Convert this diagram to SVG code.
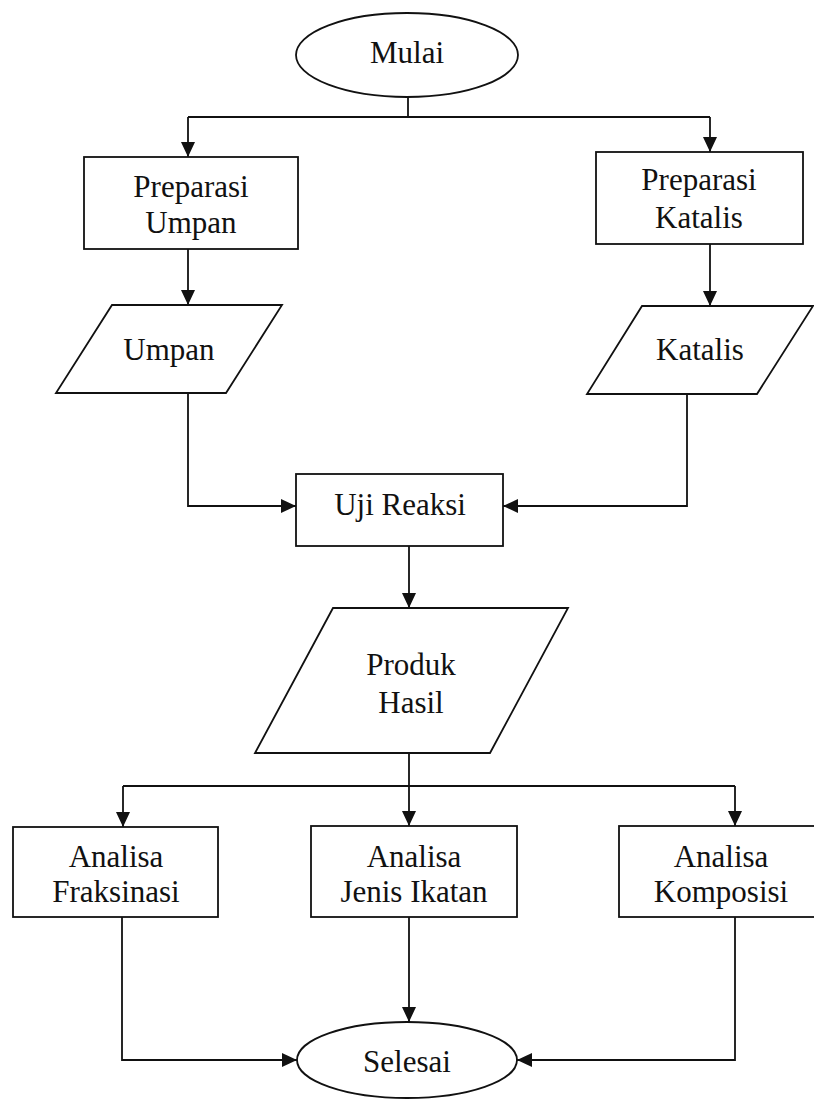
<svg xmlns="http://www.w3.org/2000/svg" width="814" height="1100" viewBox="0 0 814 1100">
<style>
.s{fill:none;stroke:#111;stroke-width:1.8}
.c{fill:none;stroke:#111;stroke-width:1.8}
.t{font-family:"Liberation Serif","Times New Roman",serif;font-size:31px;fill:#111;text-anchor:middle}
</style>
<defs>
<marker id="ah" markerUnits="userSpaceOnUse" markerWidth="16" markerHeight="16" refX="15" refY="7" orient="auto">
<path d="M0,0 L15,7 L0,14 z" fill="#111"/>
</marker>
</defs>
<rect width="814" height="1100" fill="#fff"/>
<g id="connectors">
<path class="c" d="M408,97 V117"/>
<path class="c" d="M188,117 H710"/>
<path class="c" d="M188,117 V157" marker-end="url(#ah)"/>
<path class="c" d="M710,117 V152" marker-end="url(#ah)"/>
<path class="c" d="M188,249 V305" marker-end="url(#ah)"/>
<path class="c" d="M710,244 V306" marker-end="url(#ah)"/>
<path class="c" d="M188,393 V506 H296" marker-end="url(#ah)"/>
<path class="c" d="M687,394 V506 H503" marker-end="url(#ah)"/>
<path class="c" d="M409,546 V608" marker-end="url(#ah)"/>
<path class="c" d="M409,753 V786"/>
<path class="c" d="M123,786 H735"/>
<path class="c" d="M123,786 V827" marker-end="url(#ah)"/>
<path class="c" d="M409,786 V826" marker-end="url(#ah)"/>
<path class="c" d="M735,786 V826" marker-end="url(#ah)"/>
<path class="c" d="M122,917 V1060 H297" marker-end="url(#ah)"/>
<path class="c" d="M409,917 V1022" marker-end="url(#ah)"/>
<path class="c" d="M735,917 V1060 H517" marker-end="url(#ah)"/>
</g>
<g id="mulai">
<ellipse class="s" cx="407" cy="55" rx="111" ry="42"/>
<text class="t" x="407" y="63">Mulai</text>
</g>
<g id="preparasi-umpan">
<rect class="s" x="84" y="157" width="214" height="92"/>
<text class="t" x="191" y="197">Preparasi</text>
<text class="t" x="191" y="233">Umpan</text>
</g>
<g id="preparasi-katalis">
<rect class="s" x="596" y="152" width="207" height="92"/>
<text class="t" x="699" y="190">Preparasi</text>
<text class="t" x="699" y="228">Katalis</text>
</g>
<g id="umpan">
<polygon class="s" points="112,305 282,305 226,393 56,393"/>
<text class="t" x="169" y="360">Umpan</text>
</g>
<g id="katalis">
<polygon class="s" points="642,306 813,306 757,394 587,394"/>
<text class="t" x="700" y="360">Katalis</text>
</g>
<g id="uji-reaksi">
<rect class="s" x="296" y="474" width="207" height="72"/>
<text class="t" x="400" y="515">Uji Reaksi</text>
</g>
<g id="produk-hasil">
<polygon class="s" points="333,608 568,608 490,753 255,753"/>
<text class="t" x="411" y="675">Produk</text>
<text class="t" x="411" y="713">Hasil</text>
</g>
<g id="analisa-fraksinasi">
<rect class="s" x="13" y="827" width="205" height="90"/>
<text class="t" x="116" y="867">Analisa</text>
<text class="t" x="116" y="902">Fraksinasi</text>
</g>
<g id="analisa-jenis-ikatan">
<rect class="s" x="311" y="826" width="206" height="91"/>
<text class="t" x="414" y="867">Analisa</text>
<text class="t" x="414" y="902">Jenis Ikatan</text>
</g>
<g id="analisa-komposisi">
<rect class="s" x="619" y="826" width="205" height="91"/>
<text class="t" x="721" y="867">Analisa</text>
<text class="t" x="721" y="902">Komposisi</text>
</g>
<g id="selesai">
<ellipse class="s" cx="407" cy="1060" rx="110" ry="38"/>
<text class="t" x="407" y="1072">Selesai</text>
</g>
</svg>
